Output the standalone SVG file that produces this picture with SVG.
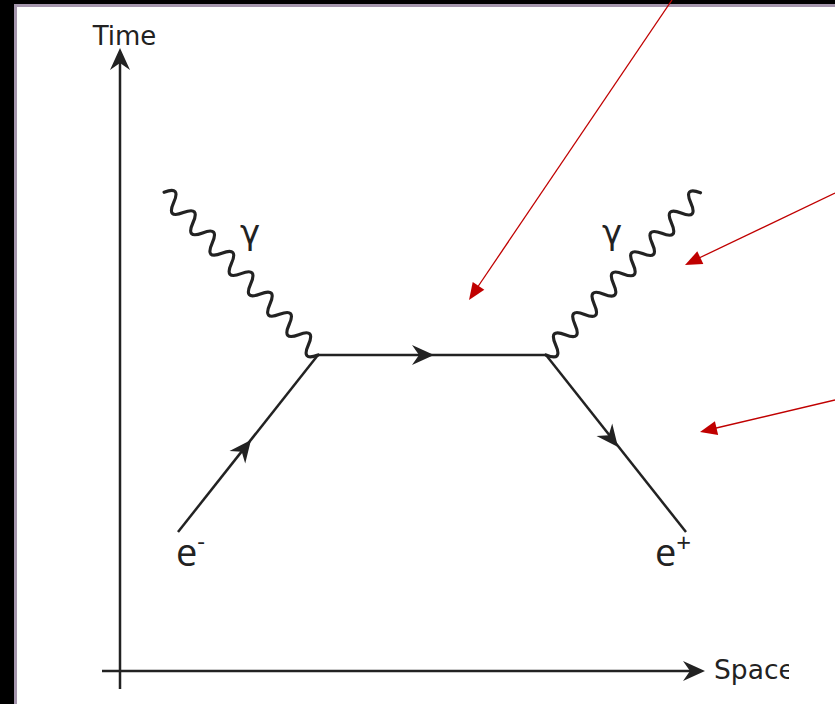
<svg xmlns="http://www.w3.org/2000/svg" width="835" height="704" viewBox="0 0 835 704">
<style>
.ln{stroke:#222;stroke-width:2.5;fill:none}
.wv{stroke:#222;stroke-width:3.2;fill:none;stroke-linecap:round}
.ah{fill:#222}
.rd{stroke:#c00000;stroke-width:1.3;fill:none}
.rh{fill:#c00000}
.lb{font-family:"DejaVu Sans",sans-serif;fill:#222}
.pl{font-family:"Open Sans","DejaVu Sans",sans-serif;fill:#222}
</style>
<defs>
<path id="arr" d="M0,0 L-22,-10 L-15,0 L-22,10 Z"/>
<path id="red" d="M0,0 L-17,-7 L-17,7 Z"/>
<path id="wave" d="M0,0 q7,-17 14,0 t14,0 t14,0 t14,0 t14,0 t14,0 t14,0 t14,0 t14,0 t14,0 t14,0 t14,0 t14,0 t14,0 t14,0 t14,0"/>
<clipPath id="cl"><rect x="0" y="0" width="789" height="704"/></clipPath>
</defs>
<rect x="0" y="0" width="835" height="704" fill="#000"/>
<rect x="14" y="4" width="821" height="700" fill="#a596ad"/>
<rect x="17" y="7" width="818" height="697" fill="#fff"/>
<g clip-path="url(#cl)">
<g id="axes">
<line class="ln" x1="120" y1="689" x2="120" y2="60"/>
<use href="#arr" class="ah" transform="translate(120,48) rotate(-90)"/>
<line class="ln" x1="102" y1="671" x2="692" y2="671"/>
<use href="#arr" class="ah" transform="translate(705,671)"/>
<text class="lb" x="124.5" y="45" font-size="26" text-anchor="middle">Time</text>
<text class="lb" x="714" y="679" font-size="26.5">Space</text>
</g>
<g id="connectors">
<line class="ln" x1="178" y1="532" x2="318" y2="355"/>
<line class="ln" x1="318" y1="355" x2="546" y2="355"/>
<line class="ln" x1="546" y1="355" x2="686" y2="532"/>
<use href="#arr" class="ah" transform="translate(251,440) rotate(-51.7)"/>
<use href="#arr" class="ah" transform="translate(434,355)"/>
<use href="#arr" class="ah" transform="translate(618,447) rotate(51.7)"/>
<use href="#wave" class="wv" transform="translate(318,355) rotate(-133.4)"/>
<use href="#wave" class="wv" transform="translate(546,355) rotate(-46.4) scale(1,-1)"/>
</g>
<g id="photon-left-label"><text class="lb" x="250" y="244" font-size="34" text-anchor="middle">γ</text></g>
<g id="photon-right-label"><text class="lb" x="612" y="244" font-size="34" text-anchor="middle">γ</text></g>
<g id="electron-label"><text class="pl" x="176" y="566" font-size="38">e<tspan font-size="24" dy="-16">-</tspan></text></g>
<g id="positron-label"><text class="pl" x="655" y="566" font-size="38">e<tspan font-size="26" dy="-14">+</tspan></text></g>
</g>
<g id="annotations">
<line class="rd" x1="672" y1="0" x2="477" y2="288"/>
<use href="#red" class="rh" transform="translate(469,300) rotate(124.1)"/>
<line class="rd" x1="835" y1="193" x2="697" y2="259"/>
<use href="#red" class="rh" transform="translate(685,265) rotate(154.4)"/>
<line class="rd" x1="835" y1="400" x2="712" y2="429"/>
<use href="#red" class="rh" transform="translate(700,432) rotate(166.7)"/>
</g>
</svg>
